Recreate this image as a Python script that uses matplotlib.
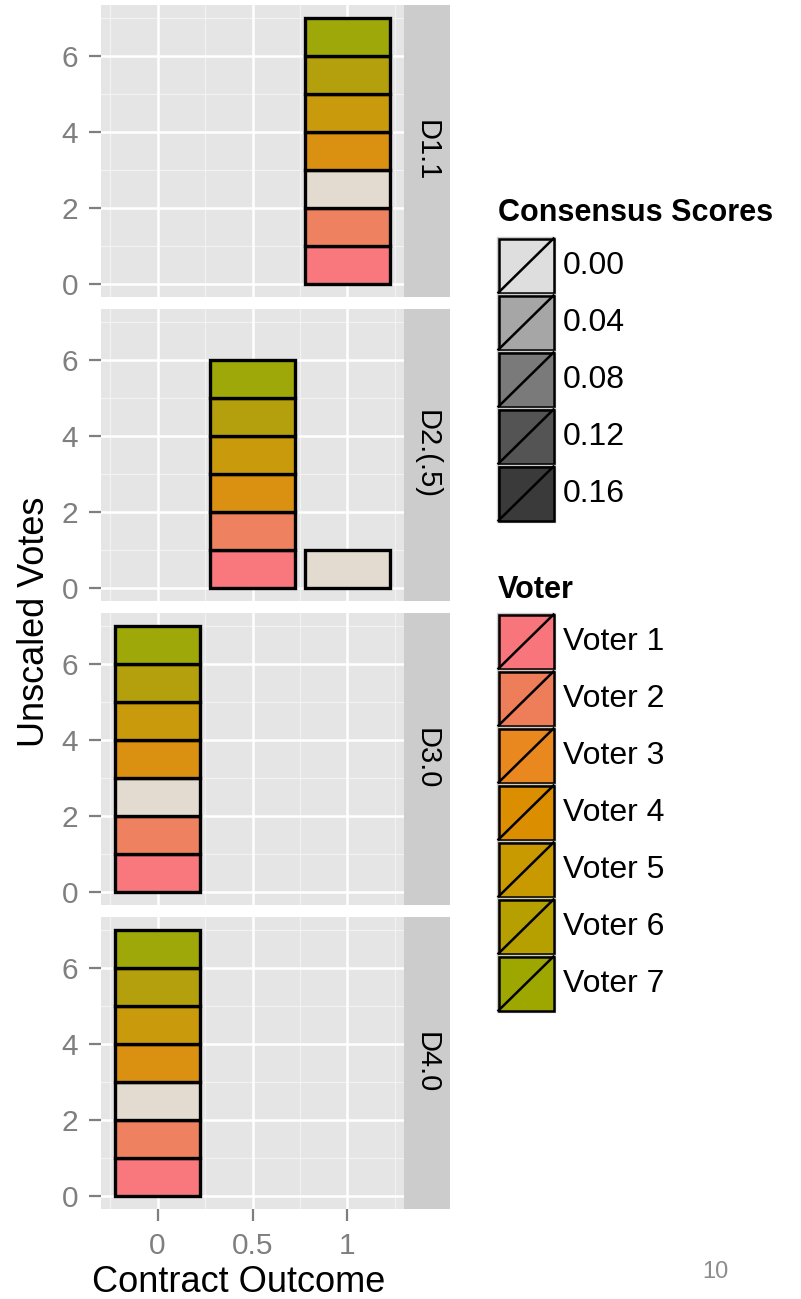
import numpy as np
import matplotlib
matplotlib.use('Agg')
import matplotlib.pyplot as plt
from matplotlib.patches import Rectangle

plt.rcParams['font.family'] = ['Liberation Sans', 'DejaVu Sans']

W, H = 801, 1299

# DATA
facets = ['D1.1', 'D2.(.5)', 'D3.0', 'D4.0']
voters = ['Voter 1', 'Voter 2', 'Voter 3', 'Voter 4', 'Voter 5', 'Voter 6', 'Voter 7']
# outcome each voter chose, per facet
choices = {
    'D1.1':    [1, 1, 1, 1, 1, 1, 1],
    'D2.(.5)': [0.5, 0.5, 1, 0.5, 0.5, 0.5, 0.5],
    'D3.0':    [0, 0, 0, 0, 0, 0, 0],
    'D4.0':    [0, 0, 0, 0, 0, 0, 0],
}
voter_colors = ['#F8767B', '#EE7E5A', '#E8881E', '#DB8F00', '#C89A00', '#B5A000', '#9DA700']
bar_colors = ['#F8787D', '#EE815F', '#E3DAD0', '#DA9010', '#C89A0C', '#B4A00C', '#9EA808']
score_labels = ['0.00', '0.04', '0.08', '0.12', '0.16']
score_colors = ['#DEDEDE', '#A6A6A6', '#7A7A7A', '#545454', '#3A3A3A']
x_ticks = [0, 0.5, 1]
x_ticklabels = ['0', '0.5', '1']
y_ticks = [0, 2, 4, 6]

fig = plt.figure(figsize=(W / 100, H / 100), dpi=100)

def rect(l, t, r, b):
    return [l / W, 1 - b / H, (r - l) / W, (b - t) / H]

panel_l, panel_r, strip_r = 101, 404, 450
for i, fac in enumerate(facets):
    top = 5 + 304 * i
    bot = top + 292
    ax = fig.add_axes(rect(panel_l, top, panel_r, bot))
    ax.set_facecolor('#E5E5E5')
    ax.set_xlim(-0.2975, 1.2975)
    ax.set_ylim(-0.35, 7.35)
    for yy in [1, 3, 5, 7]:
        ax.axhline(yy, color='#F2F2F2', lw=0.9, zorder=0)
    for xx in [-0.25, 0.25, 0.75, 1.25]:
        ax.axvline(xx, color='#F2F2F2', lw=0.9, zorder=0)
    for yy in y_ticks:
        ax.axhline(yy, color='white', lw=1.8, zorder=0)
    for xx in x_ticks:
        ax.axvline(xx, color='white', lw=1.8, zorder=0)
    # stacked bars
    heights = {}
    for v, x in enumerate(choices[fac]):
        b = heights.get(x, 0)
        ax.bar(x, 1, bottom=b, width=0.45, color=bar_colors[v],
               edgecolor='black', lw=2.4, zorder=3)
        heights[x] = b + 1
    for s in ax.spines.values():
        s.set_visible(False)
    ax.set_yticks(y_ticks)
    ax.set_yticklabels([str(t) for t in y_ticks], fontsize=21.5, color='#7F7F7F')
    ax.tick_params(axis='y', length=8.6, width=1.6, color='#7F7F7F', pad=8)
    ax.set_xticks(x_ticks)
    if i == len(facets) - 1:
        ax.set_xticklabels(x_ticklabels, fontsize=21.5, color='#7F7F7F')
        ax.tick_params(axis='x', length=8.6, width=1.6, color='#7F7F7F', pad=8)
    else:
        ax.tick_params(axis='x', length=0, labelbottom=False)
    # strip
    sax = fig.add_axes(rect(panel_r, top, strip_r, bot))
    sax.set_facecolor('#CCCCCC')
    sax.set_xticks([]); sax.set_yticks([])
    for s in sax.spines.values():
        s.set_visible(False)
    sax.text(0.5, 0.5, fac, rotation=-90, ha='center', va='center',
             fontsize=21, color='black', transform=sax.transAxes)

fig.text(239 / W, 1 - 1282 / H, 'Contract Outcome', ha='center', va='center', fontsize=26)
fig.text(35 / W, 1 - 622 / H, 'Unscaled Votes', ha='center', va='center',
         rotation=90, fontsize=26)
fig.text(715 / W, 1 - 1272 / H, '10', ha='center', va='center', fontsize=17, color='#8C8C8C')

# legends drawn in pixel coordinates
lax = fig.add_axes([0, 0, 1, 1], facecolor='none')
lax.set_xlim(0, W); lax.set_ylim(H, 0)
lax.axis('off')

def draw_legend(title, title_y, key_top, labels, colors):
    lax.text(498, title_y, title, fontsize=22, fontweight='bold', va='center', ha='left')
    kh, kw, kx = 57, 58, 497
    for j, (lab, col) in enumerate(zip(labels, colors)):
        y0 = key_top + kh * j
        lax.add_patch(Rectangle((kx, y0), kw, kh, facecolor=col, edgecolor='#CCCCCC', lw=1))
        lax.add_patch(Rectangle((kx + 1.5, y0 + 1.5), kw - 3, kh - 3, facecolor=col,
                                edgecolor='black', lw=1.8))
        lax.plot([kx + 1.5, kx + kw - 1.5], [y0 + kh - 1.5, y0 + 1.5], color='black', lw=1.8)
        lax.text(563, y0 + kh / 2, lab, fontsize=23, va='center', ha='left')

draw_legend('Consensus Scores', 213, 237, score_labels, score_colors)
draw_legend('Voter', 590, 613, voters, voter_colors)

fig.savefig('out.png', dpi=100)
